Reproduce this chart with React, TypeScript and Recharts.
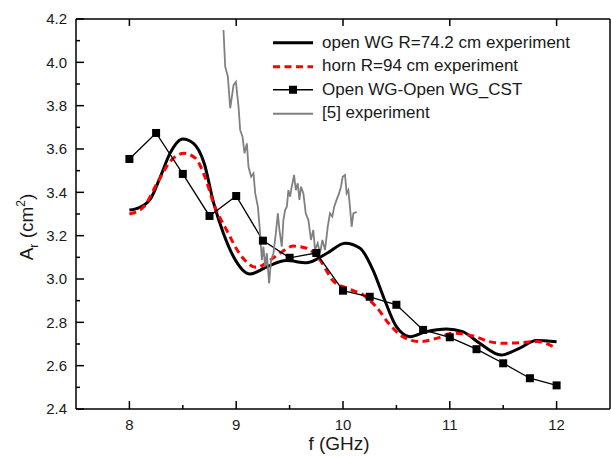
import React from 'react';
import { LineChart, Line, XAxis, YAxis } from 'recharts';

const FONT = '"Liberation Sans", Arial, sans-serif';

// open WG R=74.2 cm experiment
const openWG = [
  { f: 8.0, v: 3.318 }, { f: 8.1, v: 3.331 }, { f: 8.2, v: 3.372 }, { f: 8.29, v: 3.472 },
  { f: 8.38, v: 3.58 }, { f: 8.5, v: 3.646 }, { f: 8.6, v: 3.626 }, { f: 8.7, v: 3.534 },
  { f: 8.79, v: 3.349 }, { f: 8.88, v: 3.211 }, { f: 8.975, v: 3.103 }, { f: 9.13, v: 3.023 },
  { f: 9.29, v: 3.057 }, { f: 9.47, v: 3.085 }, { f: 9.66, v: 3.075 }, { f: 9.85, v: 3.119 },
  { f: 10.02, v: 3.165 }, { f: 10.16, v: 3.142 }, { f: 10.28, v: 3.042 }, { f: 10.39, v: 2.903 },
  { f: 10.5, v: 2.78 }, { f: 10.63, v: 2.734 }, { f: 10.78, v: 2.757 }, { f: 10.97, v: 2.769 },
  { f: 11.12, v: 2.757 }, { f: 11.28, v: 2.703 }, { f: 11.48, v: 2.649 }, { f: 11.65, v: 2.68 },
  { f: 11.81, v: 2.716 }, { f: 12.0, v: 2.71 },
];

// horn R=94 cm experiment
const horn = [
  { f: 8.0, v: 3.3 }, { f: 8.13, v: 3.331 }, { f: 8.26, v: 3.442 }, { f: 8.38, v: 3.541 },
  { f: 8.51, v: 3.58 }, { f: 8.62, v: 3.557 }, { f: 8.7, v: 3.48 }, { f: 8.8, v: 3.334 },
  { f: 8.91, v: 3.226 }, { f: 9.04, v: 3.111 }, { f: 9.19, v: 3.054 }, { f: 9.32, v: 3.088 },
  { f: 9.43, v: 3.126 }, { f: 9.535, v: 3.152 }, { f: 9.66, v: 3.142 }, { f: 9.785, v: 3.088 },
  { f: 9.91, v: 2.99 }, { f: 10.05, v: 2.955 }, { f: 10.19, v: 2.926 }, { f: 10.31, v: 2.872 },
  { f: 10.44, v: 2.788 }, { f: 10.56, v: 2.734 }, { f: 10.72, v: 2.711 }, { f: 10.875, v: 2.726 },
  { f: 11.03, v: 2.75 }, { f: 11.22, v: 2.737 }, { f: 11.37, v: 2.711 }, { f: 11.5, v: 2.703 },
  { f: 11.65, v: 2.706 }, { f: 11.81, v: 2.711 }, { f: 11.97, v: 2.688 },
];

// Open WG-Open WG_CST
const cst = [
  { f: 8.0, v: 3.554 }, { f: 8.25, v: 3.674 }, { f: 8.5, v: 3.485 }, { f: 8.75, v: 3.291 },
  { f: 9.0, v: 3.383 }, { f: 9.25, v: 3.177 }, { f: 9.5, v: 3.098 }, { f: 9.75, v: 3.12 },
  { f: 10.0, v: 2.946 }, { f: 10.25, v: 2.918 }, { f: 10.5, v: 2.881 }, { f: 10.75, v: 2.765 },
  { f: 11.0, v: 2.731 }, { f: 11.25, v: 2.676 }, { f: 11.5, v: 2.611 }, { f: 11.75, v: 2.542 },
  { f: 12.0, v: 2.509 },
];

// [5] experiment
const ref5 = [
  { f: 8.881, v: 4.149 }, { f: 8.897, v: 3.98 }, { f: 8.922, v: 3.934 }, { f: 8.944, v: 3.788 },
  { f: 8.975, v: 3.895 }, { f: 8.997, v: 3.91 }, { f: 9.022, v: 3.795 }, { f: 9.037, v: 3.688 },
  { f: 9.059, v: 3.657 }, { f: 9.078, v: 3.58 }, { f: 9.1, v: 3.626 }, { f: 9.115, v: 3.518 },
  { f: 9.14, v: 3.472 }, { f: 9.162, v: 3.488 }, { f: 9.178, v: 3.395 }, { f: 9.203, v: 3.334 },
  { f: 9.224, v: 3.211 }, { f: 9.24, v: 3.088 }, { f: 9.255, v: 3.149 }, { f: 9.271, v: 3.057 },
  { f: 9.287, v: 3.119 }, { f: 9.308, v: 2.98 }, { f: 9.327, v: 3.088 }, { f: 9.349, v: 3.119 },
  { f: 9.371, v: 3.211 }, { f: 9.39, v: 3.303 }, { f: 9.405, v: 3.226 }, { f: 9.427, v: 3.149 },
  { f: 9.442, v: 3.272 }, { f: 9.458, v: 3.318 }, { f: 9.474, v: 3.334 }, { f: 9.489, v: 3.41 },
  { f: 9.505, v: 3.38 }, { f: 9.52, v: 3.426 }, { f: 9.542, v: 3.48 }, { f: 9.558, v: 3.41 },
  { f: 9.576, v: 3.442 }, { f: 9.592, v: 3.365 }, { f: 9.607, v: 3.426 }, { f: 9.629, v: 3.395 },
  { f: 9.651, v: 3.303 }, { f: 9.676, v: 3.272 }, { f: 9.7, v: 3.18 }, { f: 9.722, v: 3.226 },
  { f: 9.738, v: 3.134 }, { f: 9.763, v: 3.165 }, { f: 9.785, v: 3.119 }, { f: 9.807, v: 3.18 },
  { f: 9.832, v: 3.134 }, { f: 9.857, v: 3.241 }, { f: 9.878, v: 3.303 }, { f: 9.9, v: 3.288 },
  { f: 9.918, v: 3.334 }, { f: 9.94, v: 3.365 }, { f: 9.963, v: 3.395 }, { f: 9.981, v: 3.426 },
  { f: 9.997, v: 3.472 }, { f: 10.019, v: 3.48 }, { f: 10.034, v: 3.395 }, { f: 10.05, v: 3.41 },
  { f: 10.065, v: 3.334 }, { f: 10.081, v: 3.241 }, { f: 10.097, v: 3.303 }, { f: 10.128, v: 3.31 },
];

const xDomain = [7.5, 12.5];
const yDomain = [2.4, 4.2];
const xTicks = [8, 8.5, 9, 9.5, 10, 10.5, 11, 11.5, 12];
const topTicks = [8, 9, 10, 11, 12];
const yTicks = [2.4, 2.5, 2.6, 2.7, 2.8, 2.9, 3.0, 3.1, 3.2, 3.3, 3.4, 3.5, 3.6, 3.7, 3.8, 3.9, 4.0, 4.1, 4.2];

const legendItems = [
  { name: 'open WG R=74.2 cm experiment', kind: 'solid' },
  { name: 'horn R=94 cm experiment', kind: 'dash' },
  { name: 'Open WG-Open WG_CST', kind: 'square' },
  { name: '[5] experiment', kind: 'gray' },
];

// chart size and plot box (matches the margins/axis sizes below)
const W = 611;
const H = 456;
const PLOT = { left: 76, top: 19, right: 610, bottom: 409 };

const LeftTick = (props: any) => {
  const { x, y, payload } = props;
  const v = payload.value;
  const major = Math.round(v * 10) % 2 === 0;
  return (
    <g>
      <line x1={x} x2={x + (major ? 8 : 4)} y1={y} y2={y} stroke="#000" strokeWidth={1.5} />
      {major && (
        <text x={x - 9} y={y + 5.3} textAnchor="end" fontSize={15} fill="#1a1a1a" fontFamily={FONT}>
          {v.toFixed(1)}
        </text>
      )}
    </g>
  );
};

const BottomTick = (props: any) => {
  const { x, y, payload } = props;
  const v = payload.value;
  const major = Number.isInteger(v);
  return (
    <g>
      <line x1={x} x2={x} y1={y} y2={y - (major ? 8 : 4)} stroke="#000" strokeWidth={1.5} />
      {major && (
        <text x={x} y={y + 21} textAnchor="middle" fontSize={15} fill="#1a1a1a" fontFamily={FONT}>
          {v}
        </text>
      )}
    </g>
  );
};

const SquareDot = (props: any) => {
  const { cx, cy } = props;
  if (cx == null || cy == null) return null;
  return <rect x={cx - 4} y={cy - 4} width={8} height={8} fill="#000" />;
};

const XLabel = () => (
  <text x={339} y={450} textAnchor="middle" fontSize={19} fill="#1a1a1a" fontFamily={FONT}>
    f (GHz)
  </text>
);

const YLabel = () => (
  <text
    x={33}
    y={227}
    transform="rotate(-90 33 227)"
    textAnchor="middle"
    fontSize={19}
    fill="#1a1a1a"
    fontFamily={FONT}
  >
    A<tspan dy={5} fontSize={12}>r</tspan>
    <tspan dy={-5}> (cm</tspan>
    <tspan dy={-8} fontSize={12}>2</tspan>
    <tspan dy={8}>)</tspan>
  </text>
);

// top and right edges of the frame with the top ticks
const Frame = () => {
  const toX = (t: number) =>
    PLOT.left + ((t - xDomain[0]) / (xDomain[1] - xDomain[0])) * (PLOT.right - PLOT.left);
  return (
    <svg width={W} height={H} style={{ position: 'absolute', left: 0, top: 0, pointerEvents: 'none' }}>
      <line x1={PLOT.left} x2={PLOT.right} y1={PLOT.top} y2={PLOT.top} stroke="#000" strokeWidth={1.5} />
      <line x1={PLOT.right} x2={PLOT.right} y1={PLOT.top} y2={PLOT.bottom} stroke="#000" strokeWidth={1.5} />
      {topTicks.map((t) => (
        <line key={t} x1={toX(t)} x2={toX(t)} y1={PLOT.top} y2={PLOT.top + 7} stroke="#000" strokeWidth={1.5} />
      ))}
    </svg>
  );
};

const LegendBox = () => (
  <div style={{ position: 'absolute', left: 273, top: 31, fontFamily: FONT, fontSize: 17, color: '#1a1a1a' }}>
    {legendItems.map((item) => (
      <div key={item.name} style={{ display: 'flex', alignItems: 'center', height: 23.5, whiteSpace: 'nowrap' }}>
        <svg width={40} height={23.5} style={{ display: 'block' }}>
          {item.kind === 'solid' && <line x1={0} x2={40} y1={11.75} y2={11.75} stroke="#000" strokeWidth={3} />}
          {item.kind === 'dash' && (
            <line x1={0} x2={40} y1={11.75} y2={11.75} stroke="#ff0000" strokeWidth={3} strokeDasharray="7 4.5" />
          )}
          {item.kind === 'square' && (
            <g>
              <line x1={0} x2={40} y1={11.75} y2={11.75} stroke="#000" strokeWidth={1.3} />
              <rect x={16} y={7.75} width={8} height={8} fill="#000" />
            </g>
          )}
          {item.kind === 'gray' && <line x1={0} x2={40} y1={11.75} y2={11.75} stroke="#808080" strokeWidth={2} />}
        </svg>
        <span style={{ marginLeft: 9 }}>{item.name}</span>
      </div>
    ))}
  </div>
);

export default function App() {
  return (
    <div style={{ position: 'absolute', left: 0, top: 0, width: W, height: H, background: '#fff' }}>
      <LineChart width={W} height={H} margin={{ top: PLOT.top, right: W - PLOT.right, bottom: 0, left: 0 }}>
        <XAxis
          type="number"
          dataKey="f"
          domain={xDomain}
          ticks={xTicks}
          allowDataOverflow
          height={H - PLOT.bottom}
          tickSize={0}
          tickMargin={0}
          tickLine={false}
          tick={<BottomTick />}
          axisLine={{ stroke: '#000', strokeWidth: 1.5 }}
          interval={0}
          label={<XLabel />}
        />
        <YAxis
          type="number"
          domain={yDomain}
          ticks={yTicks}
          allowDataOverflow
          width={PLOT.left}
          tickSize={0}
          tickMargin={0}
          tickLine={false}
          tick={<LeftTick />}
          axisLine={{ stroke: '#000', strokeWidth: 1.5 }}
          interval={0}
          label={<YLabel />}
        />
        <Line
          data={openWG}
          dataKey="v"
          type="monotone"
          stroke="#000"
          strokeWidth={3}
          dot={false}
          isAnimationActive={false}
        />
        <Line
          data={horn}
          dataKey="v"
          type="monotone"
          stroke="#ff0000"
          strokeWidth={3}
          strokeDasharray="7 4.5"
          dot={false}
          isAnimationActive={false}
        />
        <Line
          data={cst}
          dataKey="v"
          type="linear"
          stroke="#000"
          strokeWidth={1.3}
          dot={<SquareDot />}
          isAnimationActive={false}
        />
        <Line
          data={ref5}
          dataKey="v"
          type="linear"
          stroke="#808080"
          strokeWidth={1.8}
          dot={false}
          isAnimationActive={false}
        />
      </LineChart>
      <Frame />
      <LegendBox />
    </div>
  );
}
